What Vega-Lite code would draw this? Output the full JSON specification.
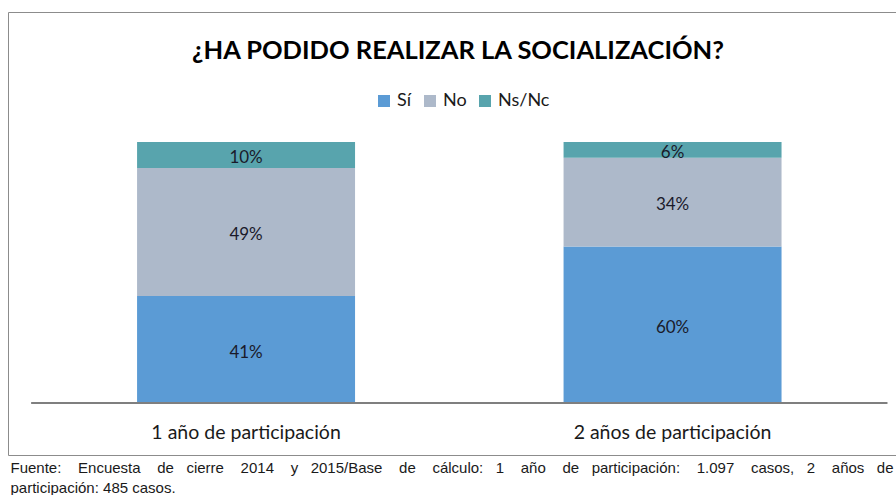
{
  "$schema": "https://vega.github.io/schema/vega-lite/v6.json",
  "width": 888,
  "height": 443,
  "autosize": {"type": "none"},
  "padding": {"left": 8, "top": 12, "right": 0, "bottom": 40},
  "background": "#ffffff",
  "config": {
    "view": {"stroke": "#8c8c8c", "strokeWidth": 1},
    "font": "Lato"
  },
  "title": {
    "text": "¿HA PODIDO REALIZAR LA SOCIALIZACIÓN?",
    "font": "Lato",
    "fontSize": 25.5,
    "fontWeight": "bold",
    "color": "#000000",
    "anchor": "middle",
    "frame": "group",
    "orient": "top",
    "baseline": "middle",
    "offset": -36,
    "dx": 6,
    "dy": 28
  },
  "datasets": {
    "resp": [
      {"grupo": "1 año de participación", "respuesta": "Sí", "k": 1, "v": 0.41},
      {"grupo": "1 año de participación", "respuesta": "No", "k": 2, "v": 0.49},
      {"grupo": "1 año de participación", "respuesta": "Ns/Nc", "k": 3, "v": 0.10},
      {"grupo": "2 años de participación", "respuesta": "Sí", "k": 1, "v": 0.60},
      {"grupo": "2 años de participación", "respuesta": "No", "k": 2, "v": 0.34},
      {"grupo": "2 años de participación", "respuesta": "Ns/Nc", "k": 3, "v": 0.06}
    ],
    "base": [
      {"a": "1 año de participación", "b": "2 años de participación", "cero": 0}
    ]
  },
  "layer": [
    {
      "data": {"name": "resp"},
      "transform": [
        {"stack": "v", "groupby": ["grupo"], "sort": [{"field": "k", "order": "ascending"}], "as": ["y0", "y1"]}
      ],
      "mark": {"type": "bar"},
      "encoding": {
        "x": {
          "field": "grupo", "type": "nominal",
          "scale": {"paddingInner": 0.4889, "paddingOuter": 0.2855, "align": 0.53},
          "axis": {
            "orient": "bottom",
            "offset": -32,
            "domain": false,
            "ticks": false,
            "tickSize": 0,
            "labelPadding": 0,
            "labelAngle": 0,
            "labelLimit": 0,
            "labelFont": "Lato",
            "labelFontSize": 19.5,
            "labelColor": "#1a1a1a",
            "title": [
              "Fuente:\u00a0\u00a0\u00a0\u00a0Encuesta\u00a0\u00a0\u00a0\u00a0de\u00a0\u00a0\u00a0cierre\u00a0\u00a0\u00a0\u00a02014\u00a0\u00a0\u00a0\u00a0y\u00a0\u00a0\u00a02015/Base\u00a0\u00a0\u00a0\u00a0de\u00a0\u00a0\u00a0\u00a0cálculo:\u00a0\u00a0\u00a01\u00a0\u00a0\u00a0\u00a0año\u00a0\u00a0\u00a0\u00a0de\u00a0\u00a0\u00a0participación:\u00a0\u00a0\u00a0\u00a01.097\u00a0\u00a0\u00a0\u00a0casos,\u00a0\u00a0\u00a02\u00a0\u00a0\u00a0\u00a0años\u00a0\u00a0\u00a0de",
              "participación: 485 casos."
            ],
            "titleFont": "Liberation Sans",
            "titleFontSize": 15,
            "titleFontWeight": "normal",
            "titleColor": "#1a1a1a",
            "titleAnchor": "start",
            "titleAlign": "left",
            "titleBaseline": "alphabetic",
            "titleLineHeight": 20,
            "titleX": 2,
            "titleY": 49
          }
        },
        "y": {
          "field": "y0", "type": "quantitative",
          "scale": {"domain": [-0.1992, 1.4981], "nice": false, "zero": false},
          "axis": null
        },
        "y2": {"field": "y1"},
        "color": {
          "field": "respuesta", "type": "nominal",
          "scale": {"domain": ["Sí", "No", "Ns/Nc"], "range": ["#5b9bd5", "#adb9ca", "#58a4ad"]},
          "legend": {
            "orient": "none",
            "legendX": 367,
            "legendY": 80,
            "direction": "horizontal",
            "title": null,
            "symbolType": "square",
            "symbolSize": 144,
            "symbolStrokeWidth": 0,
            "symbolOpacity": 1,
            "labelFont": "Lato",
            "labelFontSize": 18,
            "labelColor": "#1a1a1a",
            "labelOffset": 4,
            "columnPadding": 9,
            "padding": 0
          }
        }
      }
    },
    {
      "data": {"name": "resp"},
      "transform": [
        {"stack": "v", "groupby": ["grupo"], "sort": [{"field": "k", "order": "ascending"}], "as": ["y0", "y1"]},
        {"calculate": "(datum.y0 + datum.y1) / 2", "as": "mid"}
      ],
      "mark": {"type": "text", "font": "Lato", "fontSize": 17, "color": "#1a1a2a", "baseline": "middle", "align": "center", "dy": 3},
      "encoding": {
        "x": {"field": "grupo", "type": "nominal"},
        "y": {"field": "mid", "type": "quantitative"},
        "text": {"field": "v", "type": "quantitative", "format": ".0%"}
      }
    },
    {
      "data": {"name": "base"},
      "mark": {"type": "rule", "color": "#7f7f7f", "strokeWidth": 2},
      "encoding": {
        "x": {"field": "a", "type": "nominal", "bandPosition": -0.486},
        "x2": {"field": "b", "bandPosition": 1.486},
        "y": {"field": "cero", "type": "quantitative"}
      }
    }
  ]
}
